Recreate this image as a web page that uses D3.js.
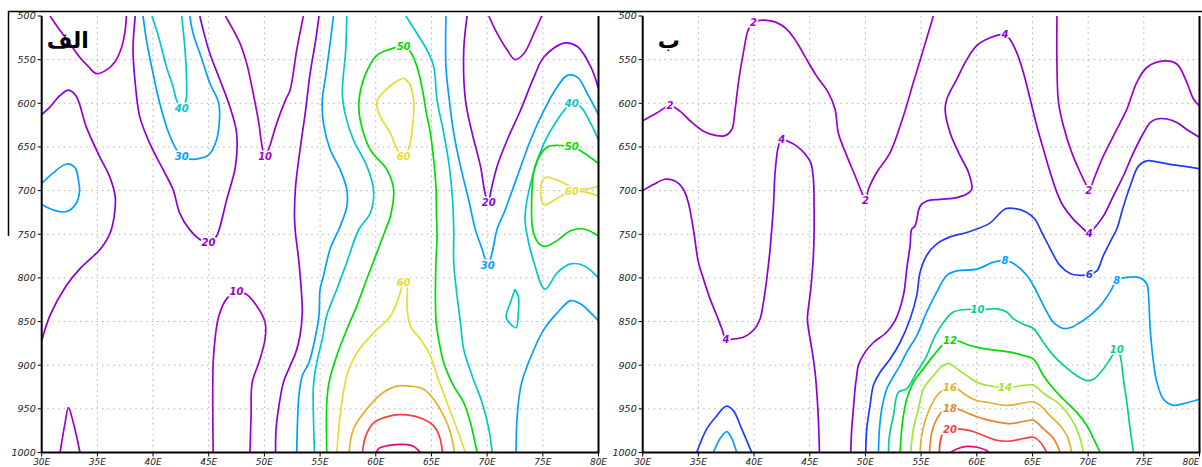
<!DOCTYPE html>
<html>
<head>
<meta charset="utf-8">
<script src="https://cdn.jsdelivr.net/npm/d3@7"></script>
<style>
  body { margin: 0; background: #fff; }
  svg text { font-family: "DejaVu Sans", sans-serif; }
</style>
</head>
<body>
<svg id="chart" width="1202" height="467"></svg>
<script>
// ---- axes ----
const lonTicks = [30, 35, 40, 45, 50, 55, 60, 65, 70, 75, 80];
const presTicks = [500, 550, 600, 650, 700, 750, 800, 850, 900, 950, 1000];

// ---- panel "alef": contour lines [lon, hPa], grouped by level ----
const alefLevels = [10, 20, 30, 40, 50, 60, 70, 80, 90];
const alef10 = [
  [[30.75,500],[31.5,514],[32.5,531],[33.4,547],[34.2,558],[34.9,566],[35.8,562],[36.6,552],[37.2,535],[37.5,516],[37.6,500]],
  [[46.5,500],[47.2,516],[47.8,531],[48.4,554],[49,589],[49.5,623],[49.8,650],[50.06,661],[50.45,650],[51.1,623],[51.9,596],[52.3,585],[52.9,539],[53.5,500]],
  [[45.4,1000],[45.4,897],[45.6,866],[45.9,844],[46.6,824],[47.5,816],[48.4,819],[49.3,832],[50.06,851],[50.06,870],[49.5,897],[48.9,920],[48.8,958],[48.7,1000]],
  [[31.65,1000],[32.1,966],[32.4,948.5],[32.84,966],[33.44,1000]],
  [[70.15,500],[70.9,520],[71.8,539],[72.5,550],[73.3,543],[74.2,520],[74.9,500]]
];
const alef20 = [
  [[30,613],[30.75,604],[31.65,591],[32.4,585],[33.1,592],[34,627],[35.2,661],[36.1,684],[36.6,707],[36.5,730],[36.1,750],[35.4,765],[34.9,772],[33.4,790],[32.2,809],[30.75,843],[30,872]],
  [[38.4,500],[38.2,539],[38.4,577],[38.8,615],[39.7,646],[40.9,676],[41.8,699],[42.4,726],[43.3,745],[44.2,756],[44.97,760],[45.6,754],[45.9,746],[46.6,711],[47.4,672],[47.5,634],[46.9,604],[46,573],[45.1,543],[44.5,516],[44.2,500]],
  [[54.9,500],[54.6,528],[54.1,566],[53.7,608],[53.2,653],[52.8,695],[52.7,730],[52.8,750],[53.1,782],[53.4,840],[53.2,866],[52.8,886],[52.3,901],[51.7,920],[51.3,947],[51.05,973],[51,1000]],
  [[68.2,500],[67.9,539],[68.05,596],[68.65,634],[69.4,672],[69.85,705],[70.15,714],[70.3,703],[70.9,672],[71.8,642],[73,608],[74.2,570],[75.1,547],[76.9,531],[78.1,535],[79.3,558],[80,583]]
];
const alef30 = [
  [[30,692],[31,680],[32.25,669.5],[33,674],[33.3,688],[33.4,700],[33.1,714.5],[32.25,724],[31.2,723],[30,716]],
  [[39.1,500],[39.4,527],[40,566],[40.6,600],[41.4,634],[42.1,653],[42.57,661],[43.3,664],[44.2,663],[45,659],[45.7,642],[45.96,619],[45.9,600],[45.1,577],[44.4,550],[43.6,520],[43.3,500]],
  [[56.2,500],[55.9,531],[55.5,569],[55.2,596],[55.3,623],[55.9,653],[56.8,676],[57.4,699],[57.4,718],[56.8,741],[55.9,767],[55.3,798],[55,813],[54.9,843],[54.6,866],[54,897],[53.4,912],[53.1,935],[52.9,1000]],
  [[66.3,500],[66.3,558],[66.6,596],[67,634],[67.6,672],[68.35,711],[68.95,745],[69.55,767],[70.06,786],[70.45,771],[70.9,744],[71.5,726],[72.7,684],[73.9,642],[75.1,608],[76.3,581],[77.2,568],[78.1,570],[79,589],[80,613]],
  [[72.6,1000],[72.7,958],[73.1,920],[74.2,882],[75.1,859],[76.3,840],[77.5,826],[78.4,830],[79.3,840],[80,849]]
];
const alef40 = [
  [[39.9,500],[40.5,524],[41.2,558],[41.8,581],[42.1,596],[42.57,606],[42.96,596],[43.02,577],[42.87,539],[42.57,500]],
  [[57.4,500],[57.3,539],[57,589],[57.3,615],[58,642],[59.2,672],[59.8,699],[59.5,726],[58.5,744],[57.4,782],[56.5,813],[55.6,843],[55.2,870],[54.7,897],[54.4,924],[54.4,958],[54.5,1000]],
  [[62.7,500],[63.7,520],[64.6,539],[65.2,558],[65.5,596],[66.1,634],[66.6,672],[66.9,711],[67,745],[67,782],[67.3,821],[67.6,851],[67.9,882],[68.65,912],[69.55,943],[70.15,973],[70.45,1000]],
  [[80,642],[79.3,623],[78.4,604],[77.6,600],[76.3,619],[75.1,646],[73.9,692],[73.4,730],[73.5,745],[74.2,782],[75.2,813],[76.3,794],[77.5,784],[78.7,786],[80,800]],
  [[72.5,813],[72.1,828],[71.7,845],[72.1,853],[72.6,857],[72.8,840],[72.8,821],[72.5,813]]
];
const alef50 = [
  [[55.6,1000],[55.6,943],[55.8,920],[56.5,889],[57.4,859],[58.3,832],[59.2,801],[60.1,771],[60.9,744],[61.3,730],[61.6,699],[61,676],[59.5,653],[58.6,619],[58.5,596],[59.1,566],[60.1,545],[61.3,538],[62.5,535],[63.1,541],[63.7,558],[64.2,585],[64.5,608],[64.9,634],[65.2,665],[65.4,695],[65.45,726],[65.5,756],[65.4,782],[65.4,847],[65.5,859],[66.1,897],[67,924],[67.9,943],[68.5,966],[69.1,1000]],
  [[80,669],[78.7,657],[77.6,649],[76.9,648.5],[75.4,650],[74.3,672],[74,711],[74.1,745],[74.6,760],[75.2,764],[76.3,757],[77.5,746],[78.7,744],[80,752]]
];
const alef60 = [
  [[62.5,571],[61.6,577],[60.1,598],[60.4,615],[61.3,634],[61.9,652],[62.5,661],[63,650],[63.3,627],[63.4,596],[63,577],[62.5,571]],
  [[56.5,1000],[56.8,958],[57.4,912],[58.3,886],[59.8,863],[61.3,844],[62.1,821],[62.5,805],[62.8,809],[62.8,832],[63.1,855],[64,870],[64.9,889],[65.5,912],[66.4,943],[67.3,973],[68.05,1000]],
  [[80,695],[78.7,698.5],[77.5,695],[76.3,688],[75.2,685],[74.8,699],[75.1,716],[76,711],[76.8,705],[77.6,701],[78.7,701.5],[80,706]]
];
const alef70 = [
  [[57.6,1000],[58,973],[59.2,950],[60.7,931],[61.9,924],[63.1,924],[64.3,927.5],[65.2,939],[66.1,958],[66.7,977],[67.07,1000]]
];
const alef80 = [
  [[58.8,1000],[59.1,981],[59.8,966],[61.3,958],[62.8,957],[64.3,962],[65.2,969.5],[65.7,981],[66,1000]]
];
const alef90 = [
  [[60.06,1000],[60.3,995],[61.3,991.6],[62.5,990.8],[63.4,993],[64,1000]]
];
const alefLabels = [
  ["10",50.06,661],["40",42.57,606],["30",42.57,661],["20",44.97,760],["10",47.5,816],
  ["50",62.5,535],["60",62.5,661],["60",62.5,805],["20",70.15,714],["30",70.06,786],
  ["40",77.6,600],["50",77.6,649],["60",77.6,701]
];

// ---- panel "be": contour lines [lon, hPa], grouped by level ----
const beLevels = [2, 4, 6, 8, 10, 12, 14, 16, 18, 20, 22];
const be2 = [
  [[30,620],[31.26,611],[32.46,603],[33.35,609],[34.25,620],[35.45,632],[36.65,637],[37.4,637],[38,630],[38.3,607],[38.6,576],[39.04,542],[39.5,515],[39.94,507.6],[40.24,505.7],[41.14,505],[42.04,507.6],[42.93,515],[43.83,530],[44.73,550],[45.63,569],[46.68,588],[47.28,607],[47.57,634],[48.32,660],[49.07,683],[49.67,702],[50,711.8],[50.27,698.5],[51.02,679],[52.22,656.5],[53.41,614.5],[54.31,576],[55.21,538],[56.1,500]],
  [[67.2,500],[67.2,557],[67.34,599],[67.78,626],[68.53,656.5],[69.28,679],[69.88,695],[70.06,700],[70.63,683],[71.38,660],[72.57,630],[73.47,607],[74.37,576],[75.27,559],[76.77,551.5],[77.96,555],[78.86,576],[79.46,595],[80,603]]
];
const be4 = [
  [[30,700],[30.96,693],[32,687],[32.9,689],[33.65,698.5],[34.1,714],[34.4,733],[34.6,748],[35,782],[35.45,801],[36.05,824],[36.65,843],[37.1,858],[37.49,870],[38.14,870],[39.04,868],[39.94,860],[40.54,847],[40.84,828],[41.14,801],[41.44,767],[41.59,744],[41.74,718],[41.89,679],[42.19,649],[42.49,641],[42.93,643],[43.83,649],[44.58,658],[45.09,668],[45.33,687],[45.39,718],[45.39,748],[45.33,774],[45.09,813],[44.79,847],[44.88,858],[45.18,881],[45.48,908],[45.69,942],[45.81,973],[45.87,1000]],
  [[48.68,1000],[48.77,973],[48.92,950],[49.07,927],[49.22,912],[49.37,900],[49.97,885],[50.72,874],[51.92,862],[52.66,849],[53.41,820],[53.71,790],[54.01,763],[54.16,744],[54.46,740.5],[54.91,718],[55.51,712],[56.71,710],[58.2,708],[59.1,704],[59.55,698.5],[59.25,679],[58.5,660],[57.61,634],[57.16,607],[57.31,595],[58.2,572.5],[59.1,550],[60,534],[61.2,525],[62.54,521],[62.99,527],[63.59,542],[64.19,565],[64.79,595],[65.39,626],[65.99,653],[66.59,679],[67.19,702],[67.78,718],[68.68,733],[69.43,742],[70.09,749],[70.48,744],[71.38,729],[72.27,706],[73.17,683],[74.07,656.5],[74.97,634],[75.57,622],[76.17,618],[77.07,618],[77.96,622],[78.86,630],[80,639]]
];
const be6 = [
  [[34.85,1000],[35.75,973],[36.65,958],[37.49,947],[38.14,952],[38.89,973],[39.79,1000]],
  [[50.03,1000],[50.12,973],[50.42,946],[50.72,923],[51.32,908],[52.22,893],[53.11,874],[54.01,847],[54.61,820],[54.91,793.5],[55.51,774],[56.41,761],[57.6,753],[59.1,748],[60,744],[61.2,737],[62.54,721],[63.44,720.6],[64.49,725],[65.24,733],[65.84,748],[66.29,759],[66.89,774],[67.48,786],[68.38,795],[69.28,797],[70.09,796],[70.78,792],[71.38,774],[72.13,755],[72.57,744],[73.17,718],[73.77,695],[74.52,672],[75.27,666],[76.17,667],[77.37,670],[78.56,672],[80,675]]
];
const be8 = [
  [[36.35,1000],[36.95,984],[37.55,976],[38,984],[38.44,1000]],
  [[51.17,1000],[51.26,973],[51.47,950],[51.92,927],[52.22,919.5],[53.11,900],[53.71,885],[54.61,866],[55.51,839],[56.41,816],[57.31,797],[58.2,792],[60,790],[61.5,782],[62.54,780],[63.59,786],[64.49,797],[65.09,809],[65.69,824],[66.29,839],[66.89,851],[67.78,858],[68.53,856.5],[69.28,851],[70.18,843],[71.08,832],[71.98,816],[72.57,803],[73.17,800],[73.77,799],[74.67,800],[75.27,807],[75.42,820],[75.57,858],[75.87,897],[76.17,919.5],[76.77,939],[77.66,946],[78.56,944],[80,939]]
];
const be10 = [
  [[52.07,1000],[52.16,980.5],[52.51,958],[52.96,931],[53.71,927],[54.61,908],[55.51,889],[56.11,870],[57,851],[57.9,839],[59.4,836],[60.06,836],[60.75,836],[61.8,835.5],[62.69,839],[63.29,847],[64.19,853],[65.09,858],[65.99,874],[66.89,889],[67.78,900],[68.98,912],[69.88,917.6],[70.48,916],[71.38,904],[71.98,893],[72.57,882],[72.87,889],[73.17,916],[73.47,942],[73.77,973],[74.07,1000]]
];
const be12 = [
  [[53.11,1000],[53.26,973],[53.41,958],[53.71,939],[54.31,919.5],[55.21,904],[56.11,889],[57,876],[57.6,872],[58.2,872],[59.4,877.5],[60.6,881],[61.8,883],[63,885],[64.19,889],[65.09,893],[65.99,912],[66.89,927],[67.78,939],[68.98,954],[69.88,969],[70.48,984],[71.08,1000]]
];
const be14 = [
  [[54.07,1000],[54.31,973],[54.76,950],[55.21,927],[56.11,912],[57,900],[57.6,898.5],[58.2,904],[59.1,912],[60,919.5],[60.9,923],[61.8,925],[62.54,926],[63.29,925],[64.19,923],[65.09,922.5],[65.54,927],[66.29,935],[67.19,942],[68.08,954],[68.83,969],[69.28,984],[69.58,1000]]
];
const be16 = [
  [[54.91,1000],[55.06,980.5],[55.51,958],[56.41,935],[57.16,927],[57.6,926],[58.2,927],[59.1,935],[60,940.5],[61.2,943],[62.69,946],[63.89,944],[65.09,942],[65.69,946],[66.59,958],[67.48,969],[68.08,980.5],[68.53,1000]]
];
const be18 = [
  [[55.75,1000],[55.96,977],[56.41,961.5],[57,952],[57.6,950],[58.2,950],[59.4,956],[60.6,961.5],[61.8,965],[63,967],[64.19,964.5],[65.09,963],[65.99,973],[66.89,984],[67.48,1000]]
];
const be20 = [
  [[56.65,1000],[56.71,988],[57,977],[57.6,974],[58.2,973],[59.4,975],[60.6,980.5],[61.8,986],[63,987],[64.19,984],[65.09,982.5],[65.69,988],[66.29,1000]]
];
const be22 = [
  [[57.6,1000],[58.2,996],[59.1,993],[60,994],[60.9,998],[61.05,1000]]
];
const beLabels = [
  ["2",32.46,603],["2",39.94,507.6],["2",50,711.8],["2",70.06,700],
  ["4",37.49,870],["4",42.49,641],["4",62.54,521],["4",70.09,749],
  ["6",70.09,796],["8",62.54,780],["8",72.57,803],["10",60.06,836],["10",72.57,882],
  ["12",57.6,872],["14",62.54,926],["16",57.6,926],["18",57.6,950],["20",57.6,974]
];

// ---- drawing ----
const svg = d3.select("#chart");
const plotTop = 16, plotBottom = 452.5;
const pageWidth = 1202;

// GrADS-like rainbow for each panel's levels
const alefColor = d3.scaleOrdinal(alefLevels,
  ["#a000c8", "#8c00d7", "#00a0ff", "#00c8c8", "#00dc00", "#e6dc32", "#e6af2d", "#fa3c3c", "#f00082"]);
const beColor = d3.scaleOrdinal(beLevels,
  ["#a000c8", "#8c00d7", "#1e3cff", "#00a0ff", "#00d28c", "#00dc00", "#a0e632", "#e6af2d", "#f08228", "#fa3c3c", "#f00082"]);

// outer frame fragments from the original figure
svg.append("line").attr("x1", 8).attr("x2", pageWidth).attr("y1", 11.5).attr("y2", 11.5)
  .attr("stroke", "#000").attr("stroke-width", 1.5);
svg.append("line").attr("x1", 8.5).attr("x2", 8.5).attr("y1", 11).attr("y2", 236)
  .attr("stroke", "#000").attr("stroke-width", 1.5);

function drawPanel(id, left, right, levels, groups, labels, color, title) {
  const x = d3.scaleLinear().domain([30, 80]).range([left, right]);
  const y = d3.scaleLinear().domain([500, 1000]).range([plotTop, plotBottom]);
  const g = svg.append("g");

  g.append("clipPath").attr("id", "clip-" + id)
    .append("rect").attr("x", left).attr("y", plotTop)
    .attr("width", right - left).attr("height", plotBottom - plotTop);

  // dotted grid
  const grid = g.append("g").attr("stroke", "#b0b0b0").attr("stroke-width", 1)
    .attr("stroke-dasharray", "1.5,4");
  grid.selectAll(".gx").data(lonTicks.slice(1, -1)).enter().append("line")
    .attr("x1", d => x(d)).attr("x2", d => x(d)).attr("y1", plotTop).attr("y2", plotBottom);
  grid.selectAll(".gy").data(presTicks.slice(1, -1)).enter().append("line")
    .attr("x1", left).attr("x2", right).attr("y1", d => y(d)).attr("y2", d => y(d));

  // contour lines
  const line = d3.line().x(d => x(d[0])).y(d => y(d[1]))
    .curve(d3.curveCatmullRom.alpha(0.5));
  const lines = [];
  levels.forEach((lev, i) => groups[i].forEach(pts => lines.push({ lev, pts })));
  g.append("g").attr("clip-path", `url(#clip-${id})`)
    .selectAll("path").data(lines).enter().append("path")
    .attr("d", d => line(d.pts))
    .attr("fill", "none")
    .attr("stroke", d => color(d.lev))
    .attr("stroke-width", 1.7)
    .attr("stroke-linejoin", "round");

  // contour labels
  g.append("g").selectAll("text").data(labels).enter().append("text")
    .attr("x", d => x(d[1])).attr("y", d => y(d[2]))
    .attr("dy", "0.35em")
    .attr("text-anchor", "middle")
    .attr("font-size", 10).attr("font-style", "italic").attr("font-weight", "bold")
    .attr("fill", d => color(+d[0]))
    .attr("stroke", "#fff").attr("stroke-width", 3).attr("paint-order", "stroke")
    .text(d => d[0]);

  // frame (left, bottom, right)
  g.append("path")
    .attr("d", `M${left},${plotTop}V${plotBottom}H${right}V${plotTop}`)
    .attr("fill", "none").attr("stroke", "#000").attr("stroke-width", 2);

  // y ticks and labels
  const yt = g.append("g");
  yt.selectAll("line").data(presTicks).enter().append("line")
    .attr("x1", left - 4).attr("x2", left).attr("y1", d => y(d)).attr("y2", d => y(d))
    .attr("stroke", "#000").attr("stroke-width", 1);
  yt.selectAll("text").data(presTicks).enter().append("text")
    .attr("x", left - 6).attr("y", d => y(d)).attr("dy", "0.35em")
    .attr("text-anchor", "end").attr("font-size", 9.5).attr("font-style", "italic")
    .attr("fill", "#222").text(d => d);

  // x ticks and labels (last one kept inside the page)
  const xt = g.append("g");
  xt.selectAll("line").data(lonTicks).enter().append("line")
    .attr("x1", d => x(d)).attr("x2", d => x(d)).attr("y1", plotBottom).attr("y2", plotBottom + 4)
    .attr("stroke", "#000").attr("stroke-width", 1);
  xt.selectAll("text").data(lonTicks).enter().append("text")
    .attr("x", d => Math.min(x(d), pageWidth - 11))
    .attr("y", plotBottom + 12)
    .attr("text-anchor", "middle").attr("font-size", 9).attr("font-style", "italic")
    .attr("fill", "#222").text(d => d + "E");

  // panel letter
  g.append("text").attr("x", left + 26).attr("y", plotTop + 32)
    .attr("text-anchor", "middle").attr("font-size", 22).attr("font-weight", "bold")
    .attr("fill", "#000").text(title);
}

drawPanel("alef", 41.7, 598.5, alefLevels,
  [alef10, alef20, alef30, alef40, alef50, alef60, alef70, alef80, alef90],
  alefLabels, alefColor, "الف");
drawPanel("be", 642.7, 1199.5, beLevels,
  [be2, be4, be6, be8, be10, be12, be14, be16, be18, be20, be22],
  beLabels, beColor, "ب");
</script>
</body>
</html>
